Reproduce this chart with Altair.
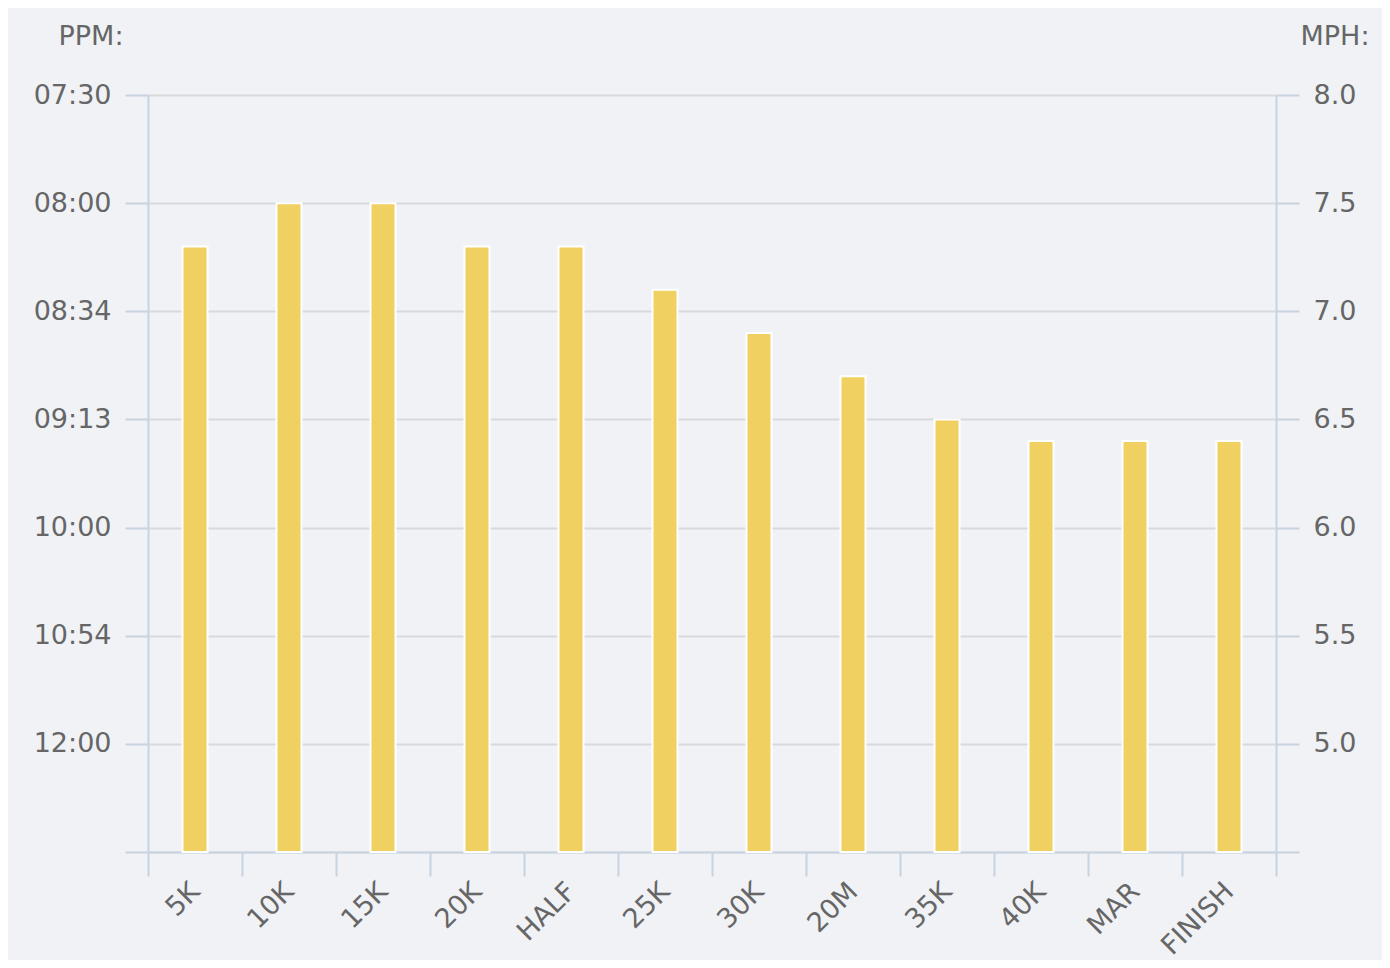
import altair as alt
import pandas as pd

splits = ["5K", "10K", "15K", "20K", "HALF", "25K", "30K", "20M", "35K", "40K", "MAR", "FINISH"]
mph = [7.3, 7.5, 7.5, 7.3, 7.3, 7.1, 6.9, 6.7, 6.5, 6.4, 6.4, 6.4]
mph_ticks = [4.5, 5.0, 5.5, 6.0, 6.5, 7.0, 7.5, 8.0]
pace_labels = ["", "12:00", "10:54", "10:00", "09:13", "08:34", "08:00", "07:30"]
mph_labels = ["", "5.0", "5.5", "6.0", "6.5", "7.0", "7.5", "8.0"]

df = pd.DataFrame({"split": splits, "mph": mph})

FONT = "DejaVu Sans"
LABEL_COLOR = "#666666"
AXIS_COLOR = "#c8d3e2"
FS = 27


def lookup_expr(labels, ticks):
    arr = "[" + ",".join("'" + s + "'" for s in labels) + "]"
    vals = "[" + ",".join(str(v) for v in ticks) + "]"
    return f"{arr}[indexof({vals}, datum.value)]"


x_enc = alt.X(
    "split:N",
    sort=splits,
    scale=alt.Scale(paddingInner=0, paddingOuter=0),
    axis=alt.Axis(
        title=None,
        labelAngle=-45,
        labelAlign="right",
        labelBaseline="middle",
        labelOffset=0,
        tickBand="extent",
        tickSize=24,
        labelPadding=11,
        grid=False,
        domain=True,
    ),
)

y_scale = alt.Scale(domain=[4.5, 8.0], nice=False, zero=False)

left_axis = alt.Axis(
    orient="left",
    values=mph_ticks,
    labelExpr=lookup_expr(pace_labels, mph_ticks),
    title="PPM:",
    titleAngle=0,
    titleAlign="right",
    titleBaseline="alphabetic",
    titleX=-25,
    titleY=-51,
    tickSize=23,
    labelPadding=14,
    grid=True,
    labelFlush=False,
)

right_axis = alt.Axis(
    orient="right",
    values=mph_ticks,
    labelExpr=lookup_expr(mph_labels, mph_ticks),
    title="MPH:",
    titleAngle=0,
    titleAlign="left",
    titleBaseline="alphabetic",
    titleX=24,
    titleY=-51,
    tickSize=23,
    labelPadding=14,
    grid=False,
    labelFlush=False,
)

base = alt.Chart(df)

bars = base.mark_bar(size=25, color="#f0d060", stroke="white", strokeWidth=2).encode(
    x=x_enc,
    y=alt.Y("mph:Q", scale=y_scale, axis=left_axis),
    y2=alt.datum(4.5),
)

right = base.mark_bar(size=25, opacity=0).encode(
    x=x_enc,
    y=alt.Y("mph:Q", scale=y_scale, axis=right_axis),
    y2=alt.datum(4.5),
)

chart = (
    alt.layer(bars, right)
    .resolve_scale(y="independent")
    .properties(
        width=1128,
        height=757,
        autosize=alt.AutoSizeParams(type="none"),
        padding={"left": 140, "top": 87, "right": 106, "bottom": 108},
        background="#f0f2f6",
    )
    .configure_view(stroke=None)
    .configure_axis(
        labelFont=FONT,
        labelFontSize=FS,
        labelColor=LABEL_COLOR,
        titleFont=FONT,
        titleFontSize=FS,
        titleColor=LABEL_COLOR,
        titleFontWeight="normal",
        domainColor=AXIS_COLOR,
        domainWidth=2,
        tickColor=AXIS_COLOR,
        tickWidth=2,
        gridColor="#d8d9db",
        gridWidth=2,
        labelOverlap=False,
    )
)

chart.save("out.html", embed_options={"renderer": "svg", "actions": False})
